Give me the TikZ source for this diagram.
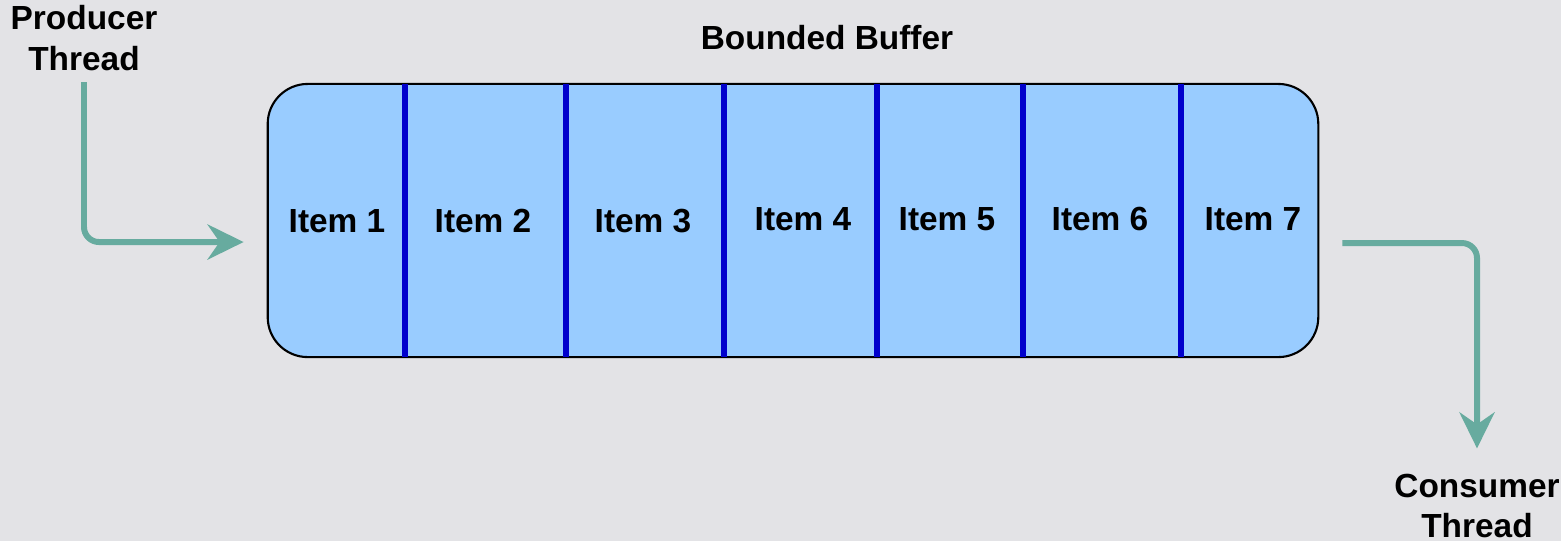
\documentclass[tikz,border=0pt]{standalone}
\usepackage{fontspec}
\setmainfont{Liberation Sans}
\usetikzlibrary{arrows.meta,positioning}
\definecolor{bggrey}{RGB}{227,227,230}
\definecolor{bufblue}{RGB}{153,204,255}
\definecolor{divblue}{RGB}{0,0,204}
\definecolor{flowteal}{RGB}{103,171,159}

\begin{document}
\begin{tikzpicture}[x=0.01cm,y=-0.01cm,font=\fontsize{9.5}{11.4}\selectfont\bfseries]
    \tikzstyle{buffer box}=[draw=black,line width=0.6pt,fill=bufblue,rounded corners=0.4cm,minimum width=10.5cm,minimum height=2.73cm,inner sep=0pt]
    \tikzstyle{item}=[inner sep=0pt]
    \tikzstyle{label}=[align=center,inner sep=0pt]
    \tikzstyle{divider}=[divblue,line width=1.75pt]
    \tikzstyle{flow}=[flowteal,line width=1.7pt,rounded corners=0.15cm,-{Stealth[length=0.36cm,width=0.35cm,inset=0.12cm]}]

    \useasboundingbox[fill=bggrey] (0,0) rectangle (1561,541);

    \node[buffer box] (buffer) at (793,220.5) {};
    \foreach \x in {405,566,724,877,1023,1181}
        \draw[divider] (\x,84) -- (\x,357);
    \foreach \n / \x / \y in {1/337/221,2/483/221,3/643/221,4/803/219,5/947/219,6/1100/219,7/1253/219}
        \node[item] (item-\n) at (\x,\y) {Item \n};

    \node[label] (title) at (827,38) {Bounded Buffer};
    \node[label] (producer) at (84,38) {Producer\\Thread};
    \node[label] (consumer) at (1477,506) {Consumer\\Thread};

    \draw[flow,shorten <=0.11cm,shorten >=0.23cm] (producer.south) |- ([yshift=-0.215cm]buffer.west);
    \draw[flow,shorten <=0.23cm,shorten >=0.25cm] ([yshift=-0.225cm]buffer.east) -| (consumer.north);
\end{tikzpicture}
\end{document}
